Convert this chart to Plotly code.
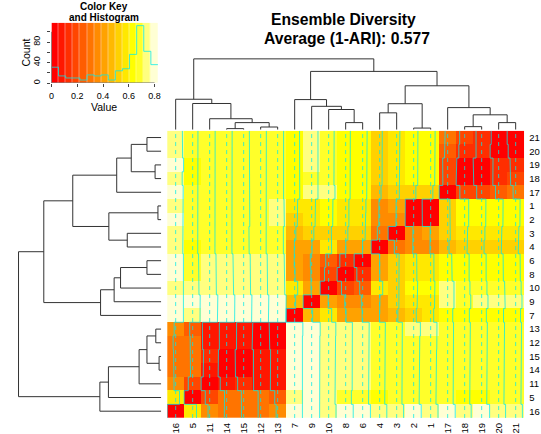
import colorsys
import numpy as np
import plotly.graph_objects as go

W, H = 541, 434
FONT = "Liberation Sans, Arial, Helvetica, sans-serif"

# ---- data -------------------------------------------------------------
# display order of ensemble members (columns left->right, rows bottom->top)
order = ["16", "5", "11", "14", "15", "12", "13", "7", "9", "10", "8", "6",
         "4", "3", "2", "1", "17", "18", "19", "20", "21"]

# dissimilarity (1-ARI) of each member to the members listed before it in `order`
d_16 = []
d_5 = [0.60]
d_11 = [0.335, 0.20]
d_14 = [0.30, 0.31, 0.10]
d_15 = [0.31, 0.30, 0.12, 0.015]
d_12 = [0.29, 0.29, 0.07, 0.06, 0.065]
d_13 = [0.34, 0.27, 0.06, 0.058, 0.07, 0.03]
d_7 = [0.79, 0.77, 0.79, 0.80, 0.80, 0.79, 0.81]
d_9 = [0.80, 0.78, 0.81, 0.81, 0.815, 0.81, 0.826, 0.46]
d_10 = [0.77, 0.72, 0.74, 0.75, 0.75, 0.75, 0.76, 0.56, 0.39]
d_8 = [0.78, 0.69, 0.73, 0.73, 0.74, 0.74, 0.74, 0.43, 0.37, 0.21]
d_6 = [0.79, 0.70, 0.72, 0.72, 0.73, 0.73, 0.73, 0.39, 0.35, 0.27, 0.13]
d_4 = [0.76, 0.66, 0.67, 0.67, 0.68, 0.68, 0.69, 0.40, 0.43, 0.56, 0.42, 0.41]
d_3 = [0.75, 0.67, 0.68, 0.68, 0.67, 0.69, 0.69, 0.47, 0.52, 0.54, 0.52, 0.53, 0.30]
d_2 = [0.78, 0.68, 0.70, 0.70, 0.71, 0.71, 0.74, 0.54, 0.58, 0.61, 0.57, 0.56, 0.37, 0.38]
d_1 = [0.77, 0.67, 0.70, 0.69, 0.70, 0.71, 0.72, 0.56, 0.60, 0.62, 0.57, 0.57, 0.38, 0.39, 0.01]
d_17 = [0.78, 0.68, 0.69, 0.69, 0.70, 0.70, 0.70, 0.66, 0.72, 0.72, 0.63, 0.61, 0.48, 0.54, 0.52, 0.52]
d_18 = [0.73, 0.66, 0.67, 0.67, 0.68, 0.68, 0.69, 0.64, 0.71, 0.67, 0.63, 0.63, 0.53, 0.56, 0.61, 0.61, 0.18]
d_19 = [0.80, 0.66, 0.67, 0.67, 0.68, 0.68, 0.69, 0.64, 0.72, 0.67, 0.63, 0.63, 0.53, 0.57, 0.61, 0.62, 0.17, 0.03]
d_20 = [0.75, 0.67, 0.68, 0.68, 0.69, 0.69, 0.70, 0.65, 0.73, 0.70, 0.64, 0.63, 0.54, 0.57, 0.62, 0.63, 0.26, 0.13, 0.14]
d_21 = [0.74, 0.67, 0.68, 0.68, 0.69, 0.69, 0.70, 0.65, 0.72, 0.68, 0.64, 0.63, 0.54, 0.57, 0.62, 0.63, 0.29, 0.17, 0.14, 0.05]

# hierarchical clustering merges (n<k> = k-th merge), relative heights
merge_a = ["14", "12", "n0", "11", "5", "16", "8", "10", "9", "7",
           "2", "4", "n11", "18", "20", "n13", "17", "n12", "n9", "n5"]
merge_b = ["15", "13", "n1", "n2", "n3", "n4", "6", "n6", "n7", "n8",
           "1", "3", "n10", "19", "21", "n14", "n15", "n16", "n17", "n18"]
merge_h = [0.015, 0.038, 0.10, 0.155, 0.37, 0.43, 0.10, 0.285, 0.33, 0.425,
           0.023, 0.238, 0.367, 0.043, 0.10, 0.21, 0.312, 0.62, 0.823, 1.0]

key_ticks = [0, 0.2, 0.4, 0.6, 0.8]

# ---- build matrix -----------------------------------------------------
tri = [d_16, d_5, d_11, d_14, d_15, d_12, d_13, d_7, d_9, d_10, d_8, d_6,
       d_4, d_3, d_2, d_1, d_17, d_18, d_19, d_20, d_21]
n = len(order)
D = np.zeros((n, n))
for i, r in enumerate(tri):
    for j, v in enumerate(r):
        D[i, j] = D[j, i] = v

lo, hi = float(D.min()), float(D.max())
breaks = np.linspace(lo, hi, 16)
ncol = len(breaks) - 1

# R heat.colors(ncol)
jj = ncol // 4
ii = ncol - jj
def hexc(h, s, v):
    r, g, b = colorsys.hsv_to_rgb(h, s, v)
    return "#%02X%02X%02X" % (round(r * 255), round(g * 255), round(b * 255))
cols = [hexc(h, 1, 1) for h in np.linspace(0, 1 / 6, ii)] + \
       [hexc(1 / 6, s, 1) for s in np.linspace(1 - 1 / (2 * jj), 1 / (2 * jj), jj)]
cscale = []
for k, c in enumerate(cols):
    cscale.append([k / ncol, c])
    cscale.append([(k + 1) / ncol, c])

idx = list(range(n))

# ---- dendrogram segments ----------------------------------------------
pos = {lab: float(i) for i, lab in enumerate(order)}
hgt = {lab: 0.0 for lab in order}
seg_p, seg_h = [], []
for k, (a, b, h) in enumerate(zip(merge_a, merge_b, merge_h)):
    pa, pb = pos[a], pos[b]
    seg_p += [pa, pa, pb, pb, None]
    seg_h += [hgt[a], h, h, hgt[b], None]
    pos["n%d" % k] = (pa + pb) / 2
    hgt["n%d" % k] = h

# ---- traces in heatmap ------------------------------------------------
vx, vy = [], []
vmid = (np.median(breaks) - lo) / (hi - lo)
for j in idx:
    vx += [j - 0.5 + vmid, j - 0.5 + vmid, None]
    vy += [-0.5, n - 0.5, None]
tx, ty = [], []
for j in idx:
    for i in idx:
        xv = j - 0.5 + (D[i, j] - lo) / (hi - lo)
        tx += [xv, xv]
        ty += [i - 0.5, i + 0.5]
    tx.append(None)
    ty.append(None)

counts, _ = np.histogram(D.flatten(), bins=breaks)
hy = list(counts) + [counts[-1]]
ytop = max(hy) / 0.95
cnt_ticks = list(range(0, int(max(hy)) + 1, 20))

TRACE = "rgba(0,235,235,0.75)"

fig = go.Figure()
fig.add_trace(go.Heatmap(z=D, x=idx, y=idx, zmin=lo, zmax=hi, colorscale=cscale,
                         showscale=False, hoverinfo="skip", xaxis="x", yaxis="y"))
fig.add_trace(go.Scatter(x=vx, y=vy, mode="lines", xaxis="x", yaxis="y",
                         line=dict(color=TRACE, width=1, dash="4px,4px"), hoverinfo="skip"))
fig.add_trace(go.Scatter(x=tx, y=ty, mode="lines", xaxis="x", yaxis="y",
                         line=dict(color=TRACE, width=1), hoverinfo="skip"))
# column dendrogram
fig.add_trace(go.Scatter(x=seg_p, y=seg_h, mode="lines", xaxis="x2", yaxis="y2",
                         line=dict(color="#333333", width=1), hoverinfo="skip"))
# row dendrogram
fig.add_trace(go.Scatter(x=seg_h, y=seg_p, mode="lines", xaxis="x3", yaxis="y3",
                         line=dict(color="#333333", width=1), hoverinfo="skip"))
# colour key
mids = list((breaks[:-1] + breaks[1:]) / 2)
fig.add_trace(go.Heatmap(z=[mids], x=list(breaks), y=[0, ytop], zmin=lo, zmax=hi,
                         colorscale=cscale, showscale=False, xgap=0.4, hoverinfo="skip",
                         xaxis="x4", yaxis="y4"))
fig.add_trace(go.Scatter(x=list(breaks), y=hy, mode="lines", line_shape="hv",
                         line=dict(color=TRACE, width=1), xaxis="x4", yaxis="y4",
                         hoverinfo="skip"))

def px_x(p):
    return p / W
def px_y(p):
    return 1 - p / H

hm_x = [px_x(166), px_x(527)]
hm_y = [px_y(419), px_y(131)]
noax = dict(visible=False, showgrid=False, zeroline=False)

fig.update_layout(
    width=W, height=H, margin=dict(l=0, r=0, t=0, b=0), autosize=False,
    paper_bgcolor="white", plot_bgcolor="white", showlegend=False,
    font=dict(family=FONT, color="black"),
    xaxis=dict(domain=hm_x, range=[-0.5, n - 0.5], tickvals=idx, ticktext=order,
               tickangle=-90, tickfont=dict(size=9.5), showgrid=False, zeroline=False,
               ticks="", anchor="y", ticklabelstandoff=2),
    yaxis=dict(domain=hm_y, range=[-0.5, n - 0.5], tickvals=idx, ticktext=order,
               side="right", tickfont=dict(size=9.5), showgrid=False, zeroline=False,
               ticks="", anchor="x", ticklabelstandoff=4),
    xaxis2=dict(domain=hm_x, range=[-0.5, n - 0.5], anchor="y2", **noax),
    yaxis2=dict(domain=[px_y(130), px_y(55)], range=[0, 75 / 71], anchor="x2", **noax),
    xaxis3=dict(domain=[px_x(5), px_x(160)], range=[155 / 144.3, 0], anchor="y3", **noax),
    yaxis3=dict(domain=hm_y, range=[-0.5, n - 0.5], anchor="x3", **noax),
    xaxis4=dict(domain=[px_x(49), px_x(156.7)], range=[lo, hi], anchor="y4",
                tickvals=key_ticks, ticktext=[("%g" % t) for t in key_ticks],
                ticks="outside", ticklen=3, tickcolor="#444", tickfont=dict(size=9),
                showgrid=False, zeroline=False, showline=False, ticklabelstandoff=1),
    yaxis4=dict(domain=[px_y(83.3), px_y(22.7)], range=[0, ytop], anchor="x4",
                tickvals=cnt_ticks,
                ticktext=[(str(t) if k % 2 == 0 else "") for k, t in enumerate(cnt_ticks)],
                tickangle=-90, ticks="outside", ticklen=3, tickcolor="#444",
                tickfont=dict(size=9), showgrid=False, zeroline=False, showline=False,
                ticklabelstandoff=4),
)

fig.add_shape(type="line", xref="x4", yref="y4", x0=key_ticks[0], x1=key_ticks[-1],
              y0=0, y1=0, line=dict(color="#444", width=1))
fig.add_shape(type="line", xref="x4", yref="y4", x0=lo, x1=lo,
              y0=cnt_ticks[0], y1=cnt_ticks[-1], line=dict(color="#444", width=1))

def ann(text, x, y, size, angle=0):
    fig.add_annotation(text=text, x=px_x(x), y=px_y(y), xref="paper", yref="paper",
                       showarrow=False, xanchor="center", yanchor="middle",
                       textangle=angle, font=dict(size=size, family=FONT, color="black"))

ann("<b>Ensemble Diversity</b>", 344, 20, 15.7)
ann("<b>Average (1-ARI): 0.577</b>", 348, 39, 15.7)
ann("<b>Color Key</b>", 102, 7, 10)
ann("<b>and Histogram</b>", 102, 18, 10)
ann("Value", 102, 107.5, 10.5)
ann("Count", 23, 53, 10.5, angle=-90)

fig.write_html("out.html", config={"displayModeBar": False},
               post_script="document.body.style.margin='0px';"
                           "document.body.style.overflow='hidden';")
